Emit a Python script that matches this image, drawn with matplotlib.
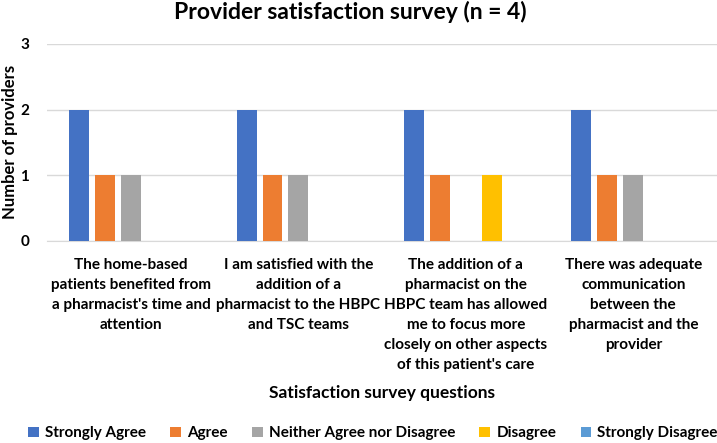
import numpy as np
import matplotlib.pyplot as plt
from matplotlib import font_manager

names = {f.name for f in font_manager.fontManager.ttflist}
fam = ['Liberation Sans Narrow'] if 'Liberation Sans Narrow' in names else ['Lato']
plt.rcParams['font.family'] = fam + ['DejaVu Sans']
plt.rcParams['font.weight'] = 'bold'

questions = [
    "The home-based\npatients benefited from\na pharmacist's time and\nattention",
    "I am satisfied with the\naddition of a\npharmacist to the HBPC\nand TSC teams",
    "The addition of a\npharmacist on the\nHBPC team has allowed\nme to focus more\nclosely on other aspects\nof this patient's care",
    "There was adequate\ncommunication\nbetween the\npharmacist and the\nprovider",
]
responses = ["Strongly Agree", "Agree", "Neither Agree nor Disagree",
             "Disagree", "Strongly Disagree"]
strongly_agree = [2, 2, 2, 2]
agree = [1, 1, 1, 1]
neither = [1, 1, 0, 1]
disagree = [0, 0, 1, 0]
strongly_disagree = [0, 0, 0, 0]
series = [strongly_agree, agree, neither, disagree, strongly_disagree]
colors = ['#4472C4', '#ED7D31', '#A5A5A5', '#FFC000', '#5B9BD5']

fig = plt.figure(figsize=(7.17, 4.43), dpi=100)
ax = fig.add_axes([0.066, 0.456, 0.934, 0.445])

x = np.arange(len(questions))
pitch = 0.155
width = 0.119
for i, (vals, name, c) in enumerate(zip(series, responses, colors)):
    ax.bar(x + (i - 2) * pitch, vals, width, color=c, label=name, zorder=3)

ax.set_xlim(-0.5, 3.5)
ax.set_ylim(0, 3)
ax.set_yticks([0, 1, 2, 3])
ax.set_xticks(x)
ax.set_xticklabels(questions, fontsize=11, linespacing=1.55)
ax.tick_params(axis='both', length=0, labelsize=11)
ax.tick_params(axis='x', pad=12)
ax.tick_params(axis='y', pad=13)
ax.grid(axis='y', color='#D9D9D9', linewidth=1, zorder=0)
for s in ['top', 'right', 'left']:
    ax.spines[s].set_visible(False)
ax.spines['bottom'].set_color('#D9D9D9')

fig.text(0.488, 0.957, "Provider satisfaction survey (n = 4)", ha='center', va='baseline',
         fontsize=16.5, fontweight='bold')
ax.set_ylabel("Number of providers", fontsize=12, fontweight='bold', va='center')
ax.yaxis.set_label_coords(-0.055, 0.5)
fig.text(0.533, 0.101, "Satisfaction survey questions", ha='center', fontsize=12.5, fontweight='bold')

fig.legend(loc='lower center', bbox_to_anchor=(0.52, -0.025), ncol=5, frameon=False,
           fontsize=11, handlelength=0.7, handleheight=0.7, handletextpad=0.4,
           columnspacing=1.6)

fig.savefig("out.png", dpi=100)
